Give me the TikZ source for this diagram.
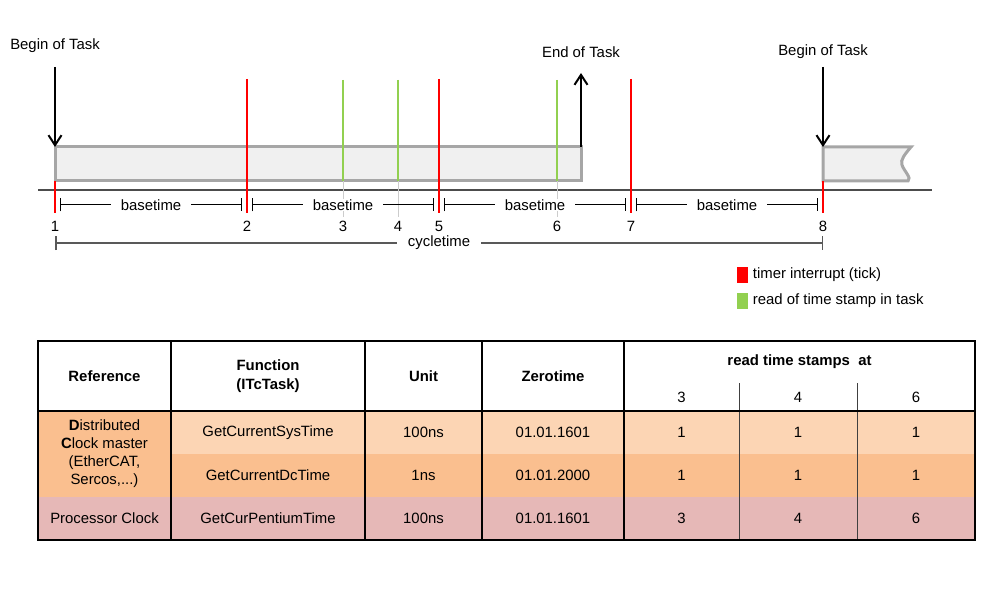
\documentclass[tikz,border=0pt]{standalone}
\usepackage{fontspec}
\setmainfont{Liberation Sans}
\usepackage{xcolor}
\usetikzlibrary{arrows.meta}
\definecolor{tickred}{RGB}{255,0,0}
\definecolor{readgreen}{RGB}{146,208,80}
\definecolor{taskgray}{RGB}{166,166,166}
\definecolor{taskfill}{RGB}{240,240,240}
\definecolor{dclight}{RGB}{252,213,180}
\definecolor{dcdark}{RGB}{250,191,143}
\definecolor{cpurose}{RGB}{230,184,183}

\tikzset{
  redtick/.style={tickred, line width=2.5pt},
  greenread/.style={readgreen, line width=2pt},
  taskbar/.style={draw=taskgray, fill=taskfill, line width=3pt},
  taskarrow/.style={line width=2pt, -{Straight Barb[length=10pt,width=13pt]}},
  baseline/.style={line width=1pt, {Bar[width=13pt]}-{Bar[width=13pt]}},
  gaplabel/.style={fill=white, text=black, inner xsep=10pt, inner ysep=1pt},
  colline/.style={line width=2pt},
  cell/.style={align=center, inner sep=0pt}
}

\begin{document}
\begin{tikzpicture}[x=1pt, y=-1pt, font=\fontsize{14.9}{17.5}\selectfont]
\useasboundingbox (0,0) rectangle (1002,591);

% time axis and task bars
\draw[black!70, line width=1.3pt] (38,190) -- (932,190);
\draw[taskbar] (55,147) rectangle (581,181);
\draw[taskbar] (823,181) -- (823,147) -- (911,147)
  .. controls (905,154) and (900,160) .. (902,165)
  .. controls (904,171) and (912,178) .. (908,181) -- cycle;

\node (beginlbl) at (55,46) {Begin of Task};
\node (endlbl) at (581,52) {End of Task};
\node (nextlbl) at (823,52) {Begin of Task};
\coordinate (begintop) at (55,67);
\coordinate (beginbar) at (55,147);
\coordinate (endbar) at (581,147);
\coordinate (endtop) at (581,73);
\coordinate (nexttop) at (823,67);
\coordinate (nextbar) at (823,147);
\draw[taskarrow] (begintop) -- (beginbar);
\draw[taskarrow] (endbar) -- (endtop);
\draw[taskarrow] (nexttop) -- (nextbar);

% ticks and time stamps
\foreach \n/\x in {1/55,2/247,3/343,4/398,5/439,6/557,7/631,8/823}
  \node (mark\n) at (\x,226) {\n};
\foreach \x in {247,439,631}
  \draw[redtick] (\x,79) -- (\x,213);
\foreach \x in {55,823}
  \draw[redtick] (\x,181) -- (\x,213);
\foreach \n/\x in {3/343,4/398,6/557} {
  \draw[black!20, line width=1pt] (\x,181) -- (mark\n.north);
  \draw[greenread] (\x,80) -- (\x,181);
}

\foreach \xa/\xb in {55/247,247/439,439/631,631/823}
  \draw[baseline] (\xa+5,205) -- node[gaplabel] {basetime} (\xb-5,205);
\draw[black!65, line width=1.5pt, {Bar[width=14pt]}-{Bar[width=14pt]}]
  (55,243) -- node[gaplabel, inner xsep=11pt] {cycletime} (823,243);

% legend
\node[fill=tickred, minimum width=11pt, minimum height=16pt, inner sep=0pt] (keytick) at (742,275) {};
\node[anchor=west, inner xsep=5pt] (keyticklbl) at (keytick.east) {timer interrupt (tick)};
\node[fill=readgreen, minimum width=11pt, minimum height=16pt, inner sep=0pt] (keyread) at (742,301) {};
\node[anchor=west, inner xsep=5pt] (keyreadlbl) at (keyread.east) {read of time stamp in task};

% table
\fill[dcdark] (38,411) rectangle (975,497);
\fill[dclight] (171,411) rectangle (975,454);
\fill[cpurose] (38,497) rectangle (975,540);
\draw[black!75, line width=0.8pt] (739,383) -- (739,540);
\draw[black!75, line width=0.8pt] (857,383) -- (857,540);
\foreach \x in {171,365,482,624}
  \draw[colline] (\x,341) -- (\x,540);
\draw[line width=2.8pt] (38,411) -- (975,411);
\draw[line width=2.5pt] (38,341) rectangle (975,540);

\node[cell, font=\fontsize{14.9}{19}\selectfont\bfseries] (hdref) at (104.5,376) {Reference};
\node[cell, font=\fontsize{14.9}{19}\selectfont\bfseries] (hdfunc) at (268,376) {Function\\(ITcTask)};
\node[cell, font=\fontsize{14.9}{19}\selectfont\bfseries] (hdunit) at (423.5,376) {Unit};
\node[cell, font=\fontsize{14.9}{19}\selectfont\bfseries] (hdzero) at (553,376) {Zerotime};
\node[cell, font=\fontsize{14.9}{19}\selectfont\bfseries] (hdread) at (799.5,362) {read time stamps\ \ at};
\node[cell] (hdat3) at (681.5,397) {3};
\node[cell] (hdat4) at (798,397) {4};
\node[cell] (hdat6) at (916,397) {6};

\node[cell, font=\fontsize{14.9}{18}\selectfont] (refdc) at (104.5,454)
  {\textbf{D}istributed\\\textbf{C}lock master\\(EtherCAT,\\Sercos,...)};
\node[cell] (refcpu) at (104.5,518.5) {Processor Clock};

\foreach \r/\y/\fn/\un/\zt/\va/\vb/\vc in {
    sys/432.5/GetCurrentSysTime/100ns/01.01.1601/1/1/1,
    dc/475.5/GetCurrentDcTime/1ns/01.01.2000/1/1/1,
    cpu/518.5/GetCurPentiumTime/100ns/01.01.1601/3/4/6} {
  \node[cell] (fn\r) at (268,\y) {\fn};
  \node[cell] (unit\r) at (423.5,\y) {\un};
  \node[cell] (zero\r) at (553,\y) {\zt};
  \node[cell] (ra\r) at (681.5,\y) {\va};
  \node[cell] (rb\r) at (798,\y) {\vb};
  \node[cell] (rc\r) at (916,\y) {\vc};
}
\end{tikzpicture}
\end{document}
